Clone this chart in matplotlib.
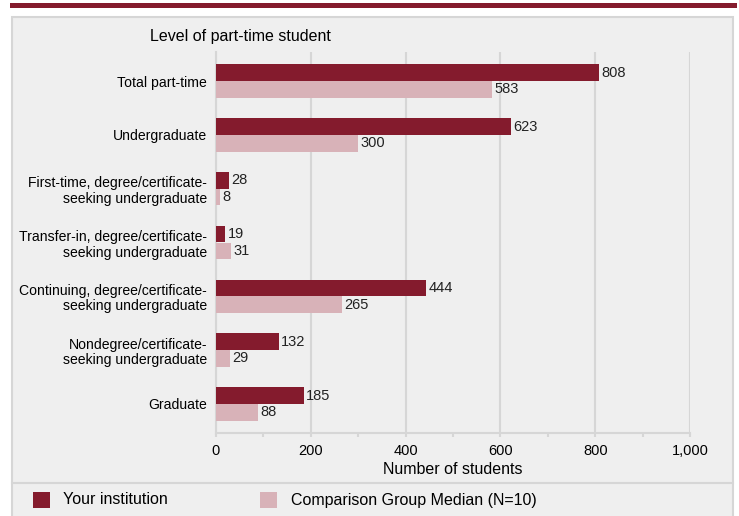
import matplotlib
matplotlib.use("Agg")
import matplotlib.pyplot as plt
from matplotlib.patches import Rectangle
from matplotlib.ticker import MultipleLocator, FuncFormatter
import numpy as np

plt.rcParams['font.family'] = ['Liberation Sans', 'DejaVu Sans']

categories = ["Total part-time", "Undergraduate",
              "First-time, degree/certificate-\nseeking undergraduate",
              "Transfer-in, degree/certificate-\nseeking undergraduate",
              "Continuing, degree/certificate-\nseeking undergraduate",
              "Nondegree/certificate-\nseeking undergraduate",
              "Graduate"]
your_inst = [808, 623, 28, 19, 444, 132, 185]
comparison = [583, 300, 8, 31, 265, 29, 88]
xticks = [0, 200, 400, 600, 800, 1000]

dark = "#841b2d"
light = "#d8b2b8"
panel = "#efefef"
edge = "#d6d6d6"

W, H = 739, 516
fig = plt.figure(figsize=(W/100, H/100), dpi=100)
fig.patch.set_facecolor("white")

def fx(px): return px / W
def fy(py): return 1 - py / H

# top maroon band
fig.patches.append(Rectangle((fx(10), fy(8)), fx(737) - fx(10), fy(3) - fy(8),
                             transform=fig.transFigure, facecolor=dark, edgecolor='none', zorder=-2))
# gray panel
fig.patches.append(Rectangle((fx(12), fy(520)), fx(733) - fx(12), fy(17) - fy(520),
                             transform=fig.transFigure, facecolor=panel, edgecolor=edge,
                             linewidth=1.5, zorder=-2))
# separator
fig.lines.append(plt.Line2D([fx(12), fx(733)], [fy(483), fy(483)], transform=fig.transFigure,
                            color=edge, linewidth=1.5, zorder=-1))

ax = fig.add_axes([fx(216), fy(433), fx(690) - fx(216), fy(52) - fy(433)])
ax.set_facecolor(panel)

y = np.arange(len(categories))
h = 0.31
ax.barh(y - h/2, your_inst, height=h, color=dark, zorder=3)
ax.barh(y + h/2, comparison, height=h, color=light, zorder=3)

fs = 10.5
for yi, v in zip(y, your_inst):
    ax.text(v + 5, yi - h/2, f"{v}", va='center', ha='left', fontsize=fs, color='#222222', zorder=4)
for yi, v in zip(y, comparison):
    ax.text(v + 5, yi + h/2, f"{v}", va='center', ha='left', fontsize=fs, color='#222222', zorder=4)

ax.set_xlim(0, 1000)
ax.set_ylim(len(categories) - 1 + 0.54, -0.54)
ax.set_yticks(y)
ax.set_yticklabels(categories, fontsize=10.1, ha='right', linespacing=1.15)
ax.set_xticks(xticks)
ax.xaxis.set_minor_locator(MultipleLocator(100))
ax.xaxis.set_major_formatter(FuncFormatter(lambda v, p: f"{int(v):,}"))
ax.tick_params(axis='x', which='major', length=3, color=edge, width=1.5, labelsize=fs, pad=5)
ax.tick_params(axis='x', which='minor', length=3, color=edge, width=1.5)
ax.tick_params(axis='y', length=0, pad=6.5)
ax.grid(axis='x', which='major', color=edge, linewidth=1.5, zorder=0)
for s in ['top', 'right']:
    ax.spines[s].set_visible(False)
for s in ['left', 'bottom']:
    ax.spines[s].set_color(edge)
    ax.spines[s].set_linewidth(1.5)
ax.set_xlabel("Number of students", fontsize=11.5, labelpad=2.5)

fig.text(fx(150), fy(37), "Level of part-time student", fontsize=11.5, va='center', ha='left')

# legend
fig.patches.append(Rectangle((fx(33), fy(508)), fx(50) - fx(33), fy(492) - fy(508),
                             transform=fig.transFigure, facecolor=dark, edgecolor='none'))
fig.text(fx(63), fy(500), "Your institution", fontsize=11.5, va='center', ha='left')
fig.patches.append(Rectangle((fx(260), fy(508)), fx(277) - fx(260), fy(492) - fy(508),
                             transform=fig.transFigure, facecolor=light, edgecolor='none'))
fig.text(fx(291), fy(500), "Comparison Group Median (N=10)", fontsize=11.5, va='center', ha='left')

fig.savefig("out.png", dpi=100, facecolor=fig.get_facecolor())
